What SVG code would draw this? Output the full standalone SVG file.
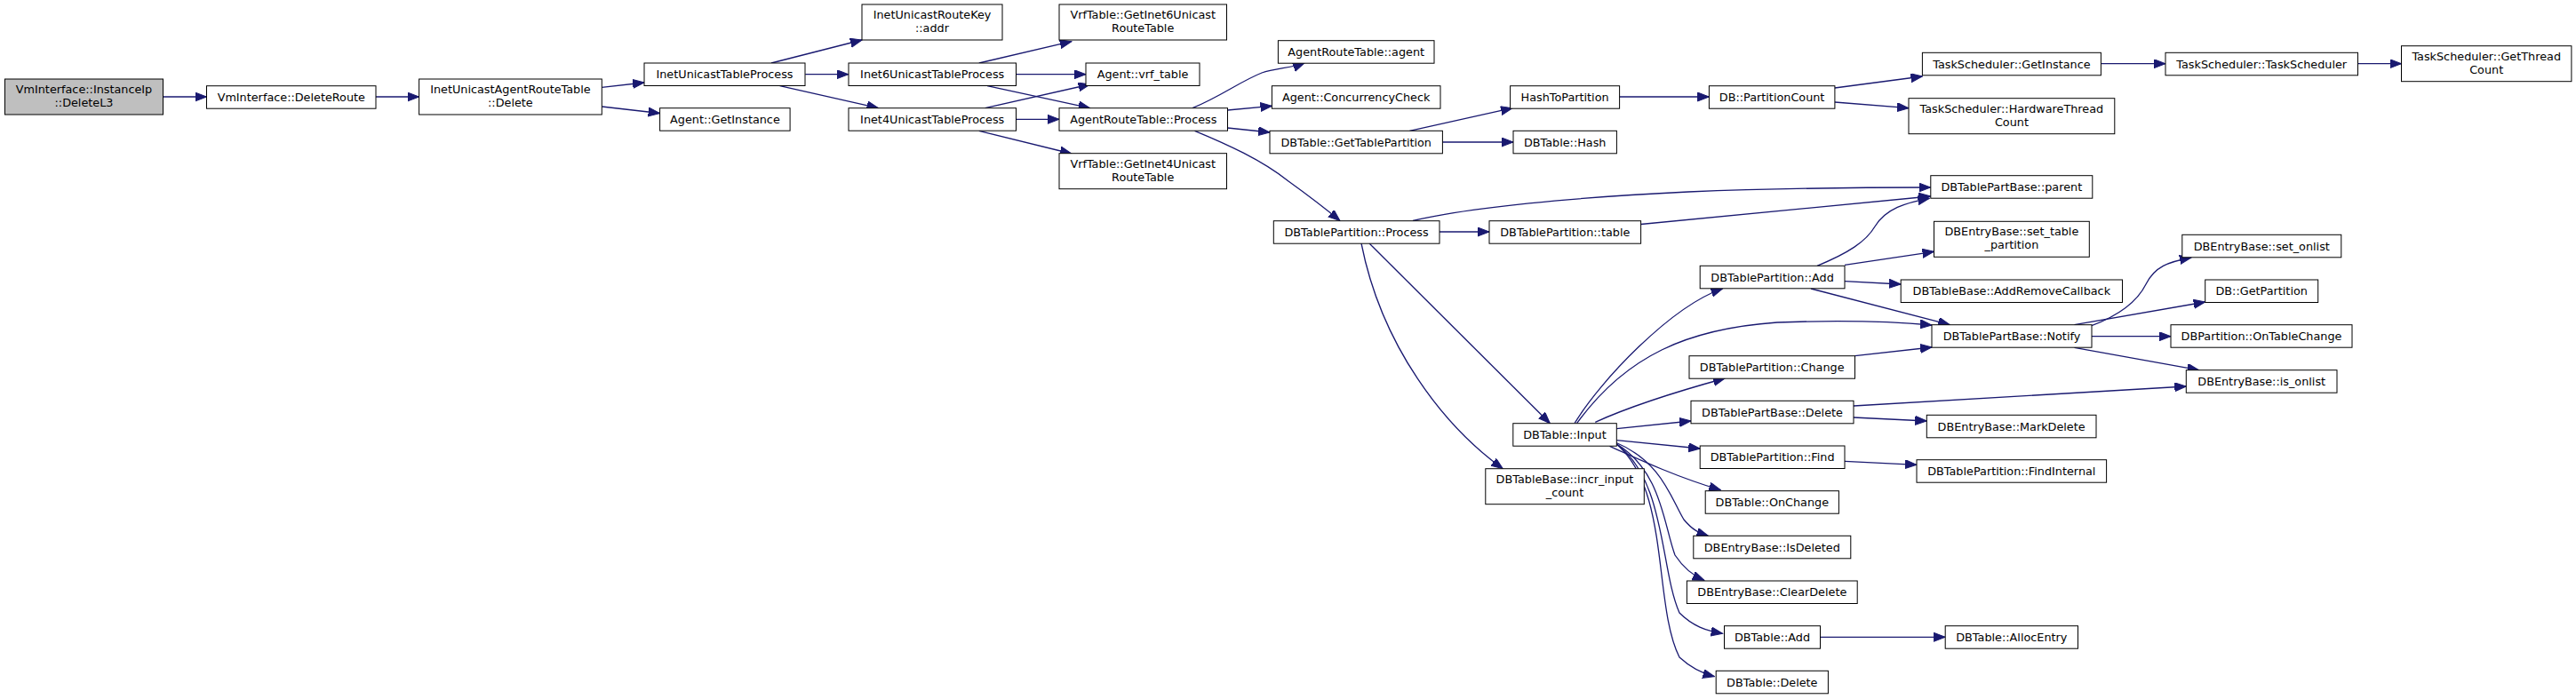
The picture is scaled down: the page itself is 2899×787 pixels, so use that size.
<svg xmlns="http://www.w3.org/2000/svg" width="2899" height="787" viewBox="0 0 2899 787">
<style>
.node rect{fill:#fff;stroke:#000;stroke-width:1}
.node.root rect{fill:#bfbfbf}
.node text{font-family:"DejaVu Sans","Liberation Sans",sans-serif;font-size:12.8px;text-anchor:middle;fill:#000}
.edges path{fill:none;stroke:#191970;stroke-width:1.3;marker-end:url(#ah)}
</style>
<defs>
<marker id="ah" markerUnits="userSpaceOnUse" markerWidth="14" markerHeight="11" refX="13" refY="5" orient="auto">
<path d="M0,0 L13,5 L0,10 z" fill="#191970" stroke="#191970" stroke-width="1"/>
</marker>
</defs>
<rect width="2899" height="787" fill="#fff"/>
<g class="edges">
<path d="M183.5,109 L232.5,109"/>
<path d="M423,109 L471.6,109"/>
<path d="M677.3,98.3 L725,93"/>
<path d="M677.3,120 L742.6,127.5"/>
<path d="M868,71 L970,45"/>
<path d="M906.2,83.7 L954.8,83.7"/>
<path d="M877.6,96.7 L988.5,121.7"/>
<path d="M1101.8,71 L1205.8,46.7"/>
<path d="M1143.4,83.7 L1222,83.7"/>
<path d="M1111,96.7 L1226.6,121.7"/>
<path d="M1108.7,121.7 L1226.6,95"/>
<path d="M1143.4,134.3 L1192,134.3"/>
<path d="M1101.8,147.3 L1205.8,173"/>
<path d="M1342,121.7 C1375,108 1395,92 1420,82 C1435,77 1455,76 1468,71"/>
<path d="M1381.5,124 L1431.4,119.3"/>
<path d="M1381.5,144 L1429,149"/>
<path d="M1344.5,147.3 C1380,162 1420,180 1450,204 C1475,222 1493,236 1508,248.5"/>
<path d="M1586.4,147.3 L1702,121.7"/>
<path d="M1623.4,160 L1703,160"/>
<path d="M1822.6,109 L1923.4,109"/>
<path d="M2064.9,99 L2163.4,86"/>
<path d="M2064.9,115 L2148,121.7"/>
<path d="M2364.5,71.7 L2437,71.7"/>
<path d="M2653.5,71.7 L2702.5,71.7"/>
<path d="M1590,248.5 C1660,232 1780,222 1900,216 C2000,212 2100,211 2172.6,211"/>
<path d="M1620,261 L1676,261"/>
<path d="M1846.6,252.5 L2172.6,221"/>
<path d="M1541,274 L1744.4,476.7"/>
<path d="M1532,274 C1555,390 1625,480 1691.3,527.7"/>
<path d="M1772,476.7 C1800,430 1880,345 1938.6,325"/>
<path d="M1774.5,476.7 C1830,400 1900,370 2000,363 C2080,360 2130,362 2174,366"/>
<path d="M1795.3,475.3 C1840,455 1890,440 1941,426"/>
<path d="M1819.3,482.7 L1903,474"/>
<path d="M1819.3,495.7 L1913.2,505"/>
<path d="M1811.5,502.3 C1850,520 1890,538 1936.3,551.7"/>
<path d="M1818,498 C1870,520 1880,560 1895,585 C1905,597 1912,600 1922.4,603.3"/>
<path d="M1818,499 C1870,530 1872,590 1885,625 C1895,640 1905,648 1917.8,653.3"/>
<path d="M1818,499 C1875,540 1868,640 1890,690 C1905,705 1920,710 1938.6,713.3"/>
<path d="M1818,499 C1880,550 1860,680 1890,740 C1903,752 1915,758 1929.4,761.7"/>
<path d="M2045,299.3 C2080,285 2100,272 2110,255 C2122,235 2145,228 2171.4,223.3"/>
<path d="M2076,298.3 L2176.5,283.3"/>
<path d="M2076,316.7 L2139.2,320"/>
<path d="M2038,325 L2194.3,365.7"/>
<path d="M2087.5,400.7 L2174,391"/>
<path d="M2086,457 L2460.3,435"/>
<path d="M2086,470 L2168.3,474"/>
<path d="M2353.8,366.7 C2385,355 2405,340 2415,320 C2425,300 2440,295 2466,290"/>
<path d="M2334.5,365.7 L2481.7,340"/>
<path d="M2353.8,378.7 L2443,378.7"/>
<path d="M2334.5,391.3 L2474.6,416.7"/>
<path d="M2076,519.3 L2157,523.3"/>
<path d="M2048.6,717.3 L2189.2,717.3"/>
</g>
<g id="n1" class="node root"><rect x="5.5" y="89" width="178" height="40"/><text x="94.5" y="105">VmInterface::InstanceIp</text><text x="94.5" y="120">::DeleteL3</text></g>
<g id="n2" class="node"><rect x="232.5" y="96.7" width="190.5" height="25.5"/><text x="327.8" y="113.9">VmInterface::DeleteRoute</text></g>
<g id="n3" class="node"><rect x="471.6" y="89" width="205.7" height="40"/><text x="574.4" y="105">InetUnicastAgentRouteTable</text><text x="574.4" y="120">::Delete</text></g>
<g id="n4" class="node"><rect x="725" y="71" width="181" height="25.5"/><text x="815.5" y="88.2">InetUnicastTableProcess</text></g>
<g id="n5" class="node"><rect x="742.6" y="121.7" width="146.5" height="25.5"/><text x="815.9" y="138.9">Agent::GetInstance</text></g>
<g id="n6" class="node"><rect x="970" y="5" width="158" height="40"/><text x="1049" y="21">InetUnicastRouteKey</text><text x="1049" y="36">::addr</text></g>
<g id="n7" class="node"><rect x="955" y="71" width="188.5" height="25.5"/><text x="1049.2" y="88.2">Inet6UnicastTableProcess</text></g>
<g id="n8" class="node"><rect x="955" y="121.7" width="188.5" height="25.5"/><text x="1049.2" y="138.9">Inet4UnicastTableProcess</text></g>
<g id="n9" class="node"><rect x="1192" y="5" width="188.5" height="40"/><text x="1286.2" y="21">VrfTable::GetInet6Unicast</text><text x="1286.2" y="36">RouteTable</text></g>
<g id="n10" class="node"><rect x="1222" y="71" width="128" height="25.5"/><text x="1286" y="88.2">Agent::vrf_table</text></g>
<g id="n11" class="node"><rect x="1192" y="121.7" width="189.5" height="25.5"/><text x="1286.8" y="138.9">AgentRouteTable::Process</text></g>
<g id="n12" class="node"><rect x="1192" y="172.7" width="188.5" height="40"/><text x="1286.2" y="188.7">VrfTable::GetInet4Unicast</text><text x="1286.2" y="203.7">RouteTable</text></g>
<g id="n13" class="node"><rect x="1438.4" y="45.7" width="175.6" height="25.5"/><text x="1526.2" y="62.9">AgentRouteTable::agent</text></g>
<g id="n14" class="node"><rect x="1431.4" y="96.7" width="189.6" height="25.5"/><text x="1526.2" y="113.9">Agent::ConcurrencyCheck</text></g>
<g id="n15" class="node"><rect x="1429" y="147.3" width="194.4" height="25.5"/><text x="1526.2" y="164.5">DBTable::GetTablePartition</text></g>
<g id="n16" class="node"><rect x="1699.6" y="96.7" width="123" height="25.5"/><text x="1761.1" y="113.9">HashToPartition</text></g>
<g id="n17" class="node"><rect x="1703" y="147.3" width="116.4" height="25.5"/><text x="1761.2" y="164.5">DBTable::Hash</text></g>
<g id="n18" class="node"><rect x="1923.4" y="96.7" width="141.5" height="25.5"/><text x="1994.1" y="113.9">DB::PartitionCount</text></g>
<g id="n19" class="node"><rect x="2163.4" y="59.3" width="201" height="25.5"/><text x="2263.9" y="76.5">TaskScheduler::GetInstance</text></g>
<g id="n20" class="node"><rect x="2148" y="110.7" width="231.8" height="40"/><text x="2263.9" y="126.7">TaskScheduler::HardwareThread</text><text x="2263.9" y="141.7">Count</text></g>
<g id="n21" class="node"><rect x="2437" y="59.3" width="216.5" height="25.5"/><text x="2545.2" y="76.5">TaskScheduler::TaskScheduler</text></g>
<g id="n22" class="node"><rect x="2702.5" y="51.7" width="191.4" height="40"/><text x="2798.2" y="67.7">TaskScheduler::GetThread</text><text x="2798.2" y="82.7">Count</text></g>
<g id="n23" class="node"><rect x="2172.8" y="197.7" width="182" height="25.5"/><text x="2263.8" y="214.9">DBTablePartBase::parent</text></g>
<g id="n24" class="node"><rect x="2176.5" y="249.3" width="174.8" height="40"/><text x="2263.9" y="265.3">DBEntryBase::set_table</text><text x="2263.9" y="280.3">_partition</text></g>
<g id="n25" class="node"><rect x="1433.3" y="248.7" width="186.7" height="25.5"/><text x="1526.6" y="265.9">DBTablePartition::Process</text></g>
<g id="n26" class="node"><rect x="1676" y="248.7" width="170.6" height="25.5"/><text x="1761.3" y="265.9">DBTablePartition::table</text></g>
<g id="n27" class="node"><rect x="1913.2" y="299.3" width="162.8" height="25.5"/><text x="1994.6" y="316.5">DBTablePartition::Add</text></g>
<g id="n28" class="node"><rect x="1901" y="400.7" width="186.5" height="25.5"/><text x="1994.2" y="417.9">DBTablePartition::Change</text></g>
<g id="n29" class="node"><rect x="1903" y="451.3" width="183" height="25.5"/><text x="1994.5" y="468.5">DBTablePartBase::Delete</text></g>
<g id="n30" class="node"><rect x="1702.8" y="476.7" width="116.5" height="25.5"/><text x="1761" y="493.9">DBTable::Input</text></g>
<g id="n31" class="node"><rect x="2139.2" y="315" width="249.3" height="25.5"/><text x="2263.8" y="332.2">DBTableBase::AddRemoveCallback</text></g>
<g id="n32" class="node"><rect x="2174" y="365.7" width="180" height="25.5"/><text x="2264" y="382.9">DBTablePartBase::Notify</text></g>
<g id="n33" class="node"><rect x="2455.8" y="264.3" width="179" height="25.5"/><text x="2545.3" y="281.5">DBEntryBase::set_onlist</text></g>
<g id="n34" class="node"><rect x="2481.7" y="315" width="127" height="25.5"/><text x="2545.2" y="332.2">DB::GetPartition</text></g>
<g id="n35" class="node"><rect x="2443" y="365.7" width="204" height="25.5"/><text x="2545" y="382.9">DBPartition::OnTableChange</text></g>
<g id="n36" class="node"><rect x="2460.3" y="416.7" width="169.7" height="25.5"/><text x="2545.2" y="433.9">DBEntryBase::is_onlist</text></g>
<g id="n37" class="node"><rect x="2168.3" y="467.3" width="190.7" height="25.5"/><text x="2263.6" y="484.5">DBEntryBase::MarkDelete</text></g>
<g id="n38" class="node"><rect x="1913.2" y="502" width="162.8" height="25.5"/><text x="1994.6" y="519.2">DBTablePartition::Find</text></g>
<g id="n39" class="node"><rect x="1671.8" y="527.7" width="178.5" height="40"/><text x="1761" y="543.7">DBTableBase::incr_input</text><text x="1761" y="558.7">_count</text></g>
<g id="n40" class="node"><rect x="1919.2" y="552.7" width="150.2" height="25.5"/><text x="1994.3" y="569.9">DBTable::OnChange</text></g>
<g id="n41" class="node"><rect x="1905.8" y="603.3" width="177" height="25.5"/><text x="1994.3" y="620.5">DBEntryBase::IsDeleted</text></g>
<g id="n42" class="node"><rect x="1898.4" y="654" width="191.8" height="25.5"/><text x="1994.3" y="671.2">DBEntryBase::ClearDelete</text></g>
<g id="n43" class="node"><rect x="1940.5" y="704.7" width="108" height="25.5"/><text x="1994.5" y="721.9">DBTable::Add</text></g>
<g id="n44" class="node"><rect x="1931.2" y="755.3" width="126.2" height="25.5"/><text x="1994.3" y="772.5">DBTable::Delete</text></g>
<g id="n45" class="node"><rect x="2157" y="517.7" width="213.6" height="25.5"/><text x="2263.8" y="534.9">DBTablePartition::FindInternal</text></g>
<g id="n46" class="node"><rect x="2189.2" y="704.7" width="149.3" height="25.5"/><text x="2263.8" y="721.9">DBTable::AllocEntry</text></g>
</svg>
